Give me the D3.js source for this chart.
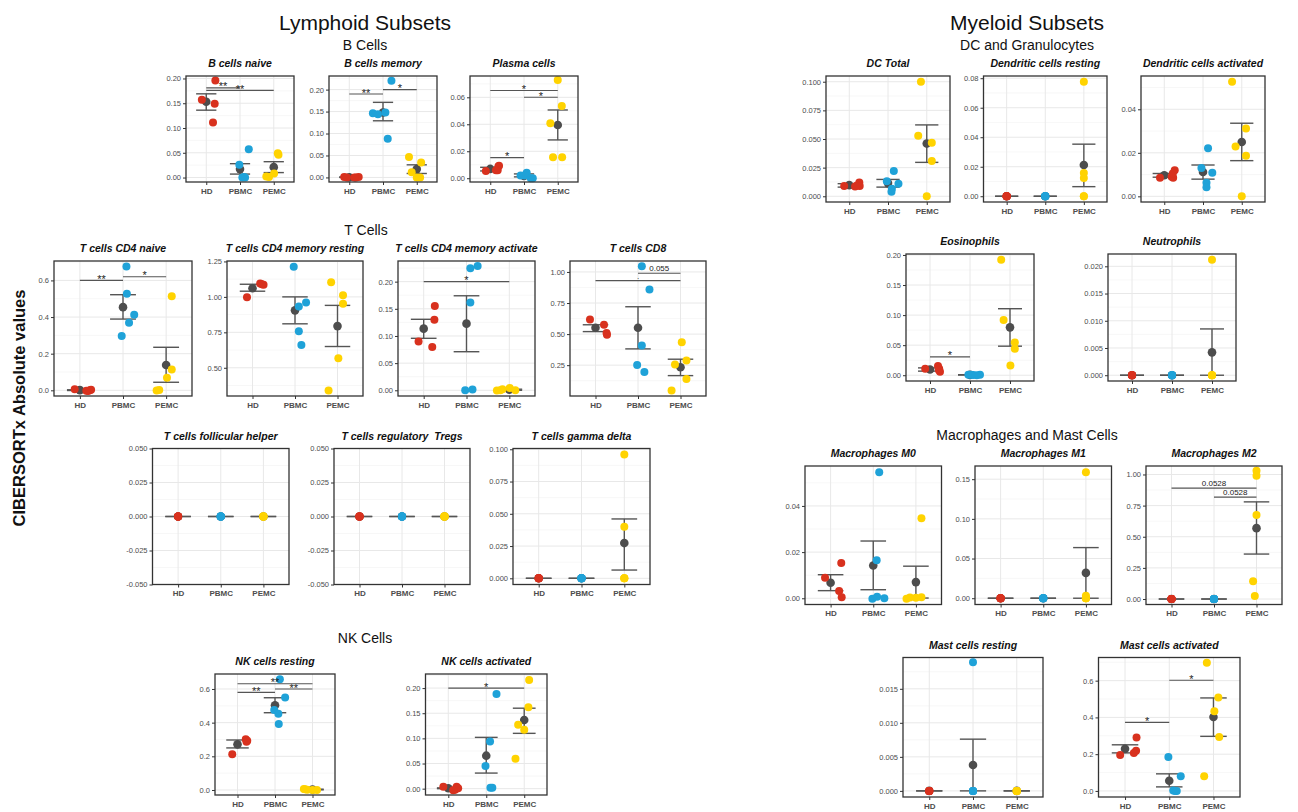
<!DOCTYPE html>
<html>
<head>
<meta charset="utf-8">
<script src="https://cdn.jsdelivr.net/npm/d3@7"></script>
<style>
  body { margin: 0; background: #fff; }
  svg { display: block; }
  .ptitle { white-space: pre; }
</style>
</head>
<body>
<svg id="chart" width="1298" height="812"></svg>
<script>
// ---------- shared categories ----------
const groups = ["HD", "PBMC", "PEMC"];
const groupColors = ["#D8311E", "#1FA2D8", "#FFD300"];
const zeros5 = [0, 0, 0, 0, 0];
const flat5 = [0, 0, 0, 0, 0];

// ---------- B cells ----------
const bNaiveValues = [[0.196, 0.157, 0.149, 0.111], [0.057, 0.026, 0.001, 0.0, 0.0], [0.049, 0.046, 0.008, 0.002, 0.001]];
const bNaiveJitter = [[0.27, -0.13, 0.25, 0.2], [0.26, -0.02, 0.12, 0.07, 0.15], [0.12, 0.14, 0.01, -0.22, -0.14]];
const bNaiveMean = [0.153, 0.017, 0.021];
const bNaiveLow = [0.136, 0.007, 0.010];
const bNaiveHigh = [0.169, 0.028, 0.032];
const bNaiveSig = [["HD", "PBMC", 0.181, "**"], ["HD", "PEMC", 0.176, "**"]];

const bMemValues = [[0.001, 0.0, 0.001, 0.0, 0.0], [0.22, 0.146, 0.144, 0.148, 0.088], [0.0467, 0.034, 0.012, 0.0, 0.0]];
const bMemJitter = [[-0.15, 0.2, 0.28, 0.15, -0.07], [0.25, -0.3, -0.15, 0.07, 0.14], [-0.23, 0.13, -0.15, 0.0, 0.1]];
const bMemMean = [0.0005, 0.148, 0.019];
const bMemLow = [0.0, 0.129, 0.009];
const bMemHigh = [0.001, 0.171, 0.0287];
const bMemSig = [["HD", "PBMC", 0.19, "**"], ["PBMC", "PEMC", 0.20, "*"]];

const plasmaValues = [[0.0054, 0.0087, 0.0059, 0.0093, 0.006], [0.0041, 0.002, 0.0, 0.0, 0.002], [0.0728, 0.0536, 0.0407, 0.0156, 0.0156]];
const plasmaJitter = [[-0.13, 0.24, 0.22, 0.26, 0.17], [0.08, 0.02, 0.2, 0.26, -0.1], [0.0, 0.12, -0.22, -0.14, 0.13]];
const plasmaMean = [0.0069, 0.0017, 0.0395];
const plasmaLow = [0.0054, 0.001, 0.0284];
const plasmaHigh = [0.0081, 0.0032, 0.0506];
const plasmaSig = [["HD", "PEMC", 0.065, "*"], ["PBMC", "PEMC", 0.060, "*"], ["HD", "PBMC", 0.0153, "*"]];

// ---------- T cells ----------
const cd4NaiveValues = [[0.006, -0.004, 0.0, 0.003, -0.002], [0.676, 0.527, 0.413, 0.369, 0.296], [0.514, 0.113, 0.069, -0.001, 0.002]];
const cd4NaiveJitter = [[-0.12, 0.19, 0.23, 0.26, 0.15], [0.08, 0.09, 0.26, 0.14, -0.03], [0.13, 0.13, 0.02, -0.22, -0.16]];
const cd4NaiveMean = [0.001, 0.454, 0.138];
const cd4NaiveLow = [-0.001, 0.389, 0.044];
const cd4NaiveHigh = [0.003, 0.522, 0.235];
const cd4NaiveSig = [["HD", "PBMC", 0.60, "**"], ["PBMC", "PEMC", 0.62, "*"]];

const cd4RestValues = [[0.998, 1.094, 1.085, 1.089], [1.212, 0.961, 0.933, 0.757, 0.661], [1.103, 1.012, 0.951, 0.568, 0.339]];
const cd4RestJitter = [[-0.13, 0.18, 0.26, 0.22], [-0.03, 0.26, 0.09, 0.09, 0.15], [-0.15, 0.13, 0.13, 0.02, -0.21]];
const cd4RestMean = [1.061, 0.905, 0.794];
const cd4RestLow = [1.04, 0.81, 0.65];
const cd4RestHigh = [1.089, 1.0, 0.94];
const cd4RestSig = [];

const cd4ActValues = [[0.155, 0.130, 0.0896, 0.0798], [0.2245, 0.2288, 0.1614, 0.0, 0.0013], [0.0, 0.002, 0.004, 0.0, -0.0005]];
const cd4ActJitter = [[0.26, 0.25, -0.12, 0.2], [0.09, 0.26, 0.09, -0.03, 0.14], [-0.21, -0.16, 0.01, 0.14, -0.29]];
const cd4ActMean = [0.1135, 0.1227, 0.001];
const cd4ActLow = [0.0957, 0.071, 0.0];
const cd4ActHigh = [0.1307, 0.174, 0.002];
const cd4ActSig = [["HD", "PEMC", 0.20, "*"]];

const cd8Values = [[0.617, 0.575, 0.508, 0.495], [1.045, 0.859, 0.408, 0.252, 0.196], [0.434, 0.287, 0.255, 0.138, 0.047]];
const cd8Jitter = [[-0.13, 0.2, 0.26, 0.27], [0.09, 0.27, 0.09, -0.02, 0.15], [0.03, 0.14, -0.13, 0.14, -0.21]];
const cd8Mean = [0.551, 0.551, 0.233];
const cd8Low = [0.52, 0.381, 0.166];
const cd8High = [0.575, 0.72, 0.298];
const cd8Sig = [["PBMC", "PEMC", 0.99, "0.055"], ["HD", "PEMC", 0.93, "."]];

const tfhValues = [zeros5, zeros5, zeros5];
const tfhMean = [0, 0, 0];
const tregValues = [zeros5, zeros5, zeros5];
const tregMean = [0, 0, 0];

const gdValues = [zeros5, zeros5, [0.096, 0.040, 0.0, 0.0, 0.0]];
const gdMean = [0, 0, 0.0273];
const gdLow = [0, 0, 0.0064];
const gdHigh = [0, 0, 0.046];

// ---------- NK cells ----------
const nkRestValues = [[0.212, 0.301, 0.292, 0.287], [0.658, 0.549, 0.475, 0.453, 0.392], [0.005, 0.002, 0.0, 0.0, 0.006]];
const nkRestJitter = [[-0.14, 0.22, 0.26, 0.24], [0.13, 0.27, -0.02, 0.09, 0.1], [-0.2, -0.14, 0.0, 0.12, -0.23]];
const nkRestMean = [0.271, 0.503, 0.003];
const nkRestLow = [0.25, 0.459, 0.001];
const nkRestHigh = [0.297, 0.548, 0.005];
const nkRestSig = [["HD", "PBMC", 0.58, "**"], ["PBMC", "PEMC", 0.60, "**"], ["HD", "PEMC", 0.631, "**"]];

const nkActValues = [[0.004, 0.004, -0.002, 0.001, -0.003], [0.188, 0.094, 0.045, 0.002, 0.002], [0.216, 0.162, 0.127, 0.117, 0.0596]];
const nkActJitter = [[-0.13, 0.22, 0.18, 0.26, 0.13], [0.27, 0.1, -0.02, 0.11, 0.16], [0.13, 0.11, -0.16, 0.0, -0.23]];
const nkActMean = [0.0008, 0.0656, 0.1365];
const nkActLow = [0.0, 0.031, 0.110];
const nkActHigh = [0.0016, 0.102, 0.160];
const nkActSig = [["HD", "PEMC", 0.20, "*"]];

// ---------- DC and granulocytes ----------
const dcTotValues = [[0.0089, 0.012, 0.0095, 0.009, 0.0085], [0.0221, 0.0132, 0.011, 0.0066, 0.004], [0.100, 0.0529, 0.0468, 0.0308, 0.0]];
const dcTotJitter = [[-0.13, 0.26, 0.2, 0.27, 0.15], [0.15, -0.03, 0.27, 0.1, 0.09], [-0.15, -0.22, 0.13, 0.13, 0.0]];
const dcTotMean = [0.0097, 0.0115, 0.046];
const dcTotLow = [0.008, 0.008, 0.0296];
const dcTotHigh = [0.011, 0.0147, 0.0623];

const dcRestValues = [zeros5, zeros5, [0.0776, 0.0157, 0.0123, 0.0, 0.0]];
const dcRestMean = [0, 0, 0.0212];
const dcRestLow = [0, 0, 0.0065];
const dcRestHigh = [0, 0, 0.0353];

const dcActValues = [[0.0085, 0.012, 0.0085, 0.009, 0.0105], [0.0221, 0.013, 0.0108, 0.0062, 0.0042], [0.0527, 0.0312, 0.0229, 0.0186, 0.0]];
const dcActJitter = [[-0.11, 0.27, 0.23, 0.19, 0.22], [0.13, -0.04, 0.24, 0.09, 0.09], [-0.25, 0.11, -0.16, 0.11, 0.0]];
const dcActMean = [0.0097, 0.0112, 0.025];
const dcActLow = [0.0088, 0.0079, 0.0164];
const dcActHigh = [0.0105, 0.0144, 0.0336];

const eosValues = [[0.0106, 0.0155, 0.0106, 0.0056, 0.0085], [0.0008, 0.0005, 0.0008, 0.0, 0.001], [0.192, 0.0917, 0.0544, 0.044, 0.016]];
const eosJitter = [[-0.12, 0.2, 0.23, 0.25, 0.22], [-0.04, 0.08, 0.25, 0.17, 0.02], [-0.22, -0.16, 0.12, 0.12, 0.01]];
const eosMean = [0.0095, 0.0006, 0.0796];
const eosLow = [0.0068, 0.0003, 0.0483];
const eosHigh = [0.0122, 0.0009, 0.1106];
const eosSig = [["HD", "PBMC", 0.0305, "*"]];

const neutValues = [zeros5, zeros5, [0.0212, 0.0, 0.0, 0.0, 0.0]];
const neutMean = [0, 0, 0.0042];
const neutLow = [0, 0, 0.0];
const neutHigh = [0, 0, 0.0085];

// ---------- Macrophages and mast cells ----------
const m0Values = [[0.0089, 0.0153, 0.0031, 0.0004], [0.0546, 0.0165, -0.0002, 0.0007, 0.0], [0.0347, -0.0002, 0.0003, 0.0002, 0.0004]];
const m0Jitter = [[-0.13, 0.25, 0.2, 0.26], [0.14, 0.08, -0.02, 0.09, 0.26], [0.13, -0.22, -0.14, 0.0, 0.13]];
const m0Mean = [0.0067, 0.0142, 0.007];
const m0Low = [0.0033, 0.0037, 0.0001];
const m0High = [0.0102, 0.0248, 0.0139];

const m1Values = [zeros5, zeros5, [0.1587, 0.003, 0.0, 0.0, 0.0]];
const m1Mean = [0, 0, 0.0319];
const m1Low = [0, 0, 0.0];
const m1High = [0, 0, 0.0638];

const m2Values = [zeros5, zeros5, [1.029, 0.989, 0.674, 0.142, 0.024]];
const m2Jitter = [flat5, flat5, [0.0, 0.0, 0.0, -0.08, -0.04]];
const m2Mean = [0, 0, 0.569];
const m2Low = [0, 0, 0.361];
const m2High = [0, 0, 0.78];
const m2Sig = [["HD", "PEMC", 0.89, "0.0528"], ["PBMC", "PEMC", 0.818, "0.0528"]];

const mastRestValues = [zeros5, [0.0189, 0.0, 0.0, 0.0, 0.0], zeros5];
const mastRestMean = [0, 0.0038, 0];
const mastRestLow = [0, 0.0, 0];
const mastRestHigh = [0, 0.0076, 0];

const mastActValues = [[0.195, 0.291, 0.218, 0.207], [0.185, 0.080, 0.003, 0.0, 0.0], [0.698, 0.509, 0.433, 0.293, 0.08]];
const mastActJitter = [[-0.11, 0.26, 0.25, 0.2], [-0.02, 0.26, 0.09, 0.13, 0.17], [-0.15, 0.11, 0.02, 0.13, -0.21]];
const mastActMean = [0.229, 0.0556, 0.402];
const mastActLow = [0.207, 0.022, 0.297];
const mastActHigh = [0.251, 0.093, 0.506];
const mastActSig = [["HD", "PBMC", 0.373, "*"], ["PBMC", "PEMC", 0.602, "*"]];

// ---------- tick sets ----------
const ticks02by05 = [0, 0.05, 0.10, 0.15, 0.20];
const ticksPlasma = [0, 0.02, 0.04, 0.06];
const ticks06by2 = [0, 0.2, 0.4, 0.6];
const ticksCd4Rest = [0.50, 0.75, 1.00, 1.25];
const ticksCd8 = [0.25, 0.50, 0.75, 1.00];
const ticksSym = [-0.05, -0.025, 0, 0.025, 0.05];
const ticks01by025 = [0, 0.025, 0.05, 0.075, 0.1];
const ticks008 = [0, 0.02, 0.04, 0.06, 0.08];
const ticks004 = [0, 0.02, 0.04];
const ticksNeut = [0, 0.005, 0.01, 0.015, 0.02];
const ticksM1 = [0, 0.05, 0.10, 0.15];
const ticksM2 = [0, 0.25, 0.5, 0.75, 1.0];
const ticksMastRest = [0, 0.005, 0.01, 0.015];

// ---------- panel layout ----------
const panels = [
  { title: "B cells naive", values: bNaiveValues, jitter: bNaiveJitter, mean: bNaiveMean, low: bNaiveLow, high: bNaiveHigh, sig: bNaiveSig, domain: [-0.009, 0.205], ticks: ticks02by05, dec: 2, box: [186, 294, 76, 182] },
  { title: "B cells memory", values: bMemValues, jitter: bMemJitter, mean: bMemMean, low: bMemLow, high: bMemHigh, sig: bMemSig, domain: [-0.0104, 0.231], ticks: ticks02by05, dec: 2, box: [329, 437, 76, 182] },
  { title: "Plasma cells", values: plasmaValues, jitter: plasmaJitter, mean: plasmaMean, low: plasmaLow, high: plasmaHigh, sig: plasmaSig, domain: [-0.0028, 0.0758], ticks: ticksPlasma, dec: 2, box: [470, 578, 76, 182] },

  { title: "T cells CD4 naive", values: cd4NaiveValues, jitter: cd4NaiveJitter, mean: cd4NaiveMean, low: cd4NaiveLow, high: cd4NaiveHigh, sig: cd4NaiveSig, domain: [-0.031, 0.706], ticks: ticks06by2, dec: 1, box: [54, 192, 261, 396] },
  { title: "T cells CD4 memory resting", values: cd4RestValues, jitter: cd4RestJitter, mean: cd4RestMean, low: cd4RestLow, high: cd4RestHigh, sig: cd4RestSig, domain: [0.301, 1.253], ticks: ticksCd4Rest, dec: 2, box: [227, 363, 261, 396] },
  { title: "T cells CD4 memory activate", values: cd4ActValues, jitter: cd4ActJitter, mean: cd4ActMean, low: cd4ActLow, high: cd4ActHigh, sig: cd4ActSig, domain: [-0.0105, 0.238], ticks: ticks02by05, dec: 2, box: [398, 535, 261, 396] },
  { title: "T cells CD8", values: cd8Values, jitter: cd8Jitter, mean: cd8Mean, low: cd8Low, high: cd8High, sig: cd8Sig, domain: [0.002, 1.088], ticks: ticksCd8, dec: 2, box: [570, 706, 261, 396] },

  { title: "T cells follicular helper", values: tfhValues, mean: tfhMean, low: tfhMean, high: tfhMean, sig: [], domain: [-0.05, 0.05], ticks: ticksSym, dec: 3, box: [152.5, 289, 448.5, 584.5] },
  { title: "T cells regulatory  Tregs", values: tregValues, mean: tregMean, low: tregMean, high: tregMean, sig: [], domain: [-0.05, 0.05], ticks: ticksSym, dec: 3, box: [334, 470, 448.5, 584.5] },
  { title: "T cells gamma delta", values: gdValues, mean: gdMean, low: gdLow, high: gdHigh, sig: [], domain: [-0.0048, 0.1006], ticks: ticks01by025, dec: 3, box: [513, 650, 448.5, 584.5] },

  { title: "NK cells resting", values: nkRestValues, jitter: nkRestJitter, mean: nkRestMean, low: nkRestLow, high: nkRestHigh, sig: nkRestSig, domain: [-0.0297, 0.689], ticks: ticks06by2, dec: 1, box: [215, 335, 674, 795] },
  { title: "NK cells activated", values: nkActValues, jitter: nkActJitter, mean: nkActMean, low: nkActLow, high: nkActHigh, sig: nkActSig, domain: [-0.0126, 0.228], ticks: ticks02by05, dec: 2, box: [425.5, 547, 674, 795] },

  { title: "DC Total", values: dcTotValues, jitter: dcTotJitter, mean: dcTotMean, low: dcTotLow, high: dcTotHigh, sig: [], domain: [-0.005, 0.105], ticks: ticks01by025, dec: 3, box: [826, 950, 76, 202] },
  { title: "Dendritic cells resting", values: dcRestValues, mean: dcRestMean, low: dcRestLow, high: dcRestHigh, sig: [], domain: [-0.0039, 0.0815], ticks: ticks008, dec: 2, box: [983.5, 1107, 76, 202] },
  { title: "Dendritic cells activated", values: dcActValues, jitter: dcActJitter, mean: dcActMean, low: dcActLow, high: dcActHigh, sig: [], domain: [-0.0026, 0.0553], ticks: ticks004, dec: 2, box: [1141, 1265, 76, 202] },
  { title: "Eosinophils", values: eosValues, jitter: eosJitter, mean: eosMean, low: eosLow, high: eosHigh, sig: eosSig, domain: [-0.0096, 0.2016], ticks: ticks02by05, dec: 2, box: [906, 1034, 254, 381] },
  { title: "Neutrophils", values: neutValues, mean: neutMean, low: neutLow, high: neutHigh, sig: [], domain: [-0.00106, 0.02226], ticks: ticksNeut, dec: 3, box: [1108, 1236, 254, 381] },

  { title: "Macrophages M0", values: m0Values, jitter: m0Jitter, mean: m0Mean, low: m0Low, high: m0High, sig: [], domain: [-0.0027, 0.0573], ticks: ticks004, dec: 2, box: [805, 941.5, 466, 604.5] },
  { title: "Macrophages M1", values: m1Values, mean: m1Mean, low: m1Low, high: m1High, sig: [], domain: [-0.0079, 0.1666], ticks: ticksM1, dec: 2, box: [975, 1111.5, 466, 604.5] },
  { title: "Macrophages M2", values: m2Values, jitter: m2Jitter, mean: m2Mean, low: m2Low, high: m2High, sig: m2Sig, domain: [-0.044, 1.068], ticks: ticksM2, dec: 2, box: [1146, 1282, 466, 604.5] },
  { title: "Mast cells resting", values: mastRestValues, mean: mastRestMean, low: mastRestLow, high: mastRestHigh, sig: [], domain: [-0.0009, 0.0196], ticks: ticksMastRest, dec: 3, box: [903, 1043, 657.5, 797] },
  { title: "Mast cells activated", values: mastActValues, jitter: mastActJitter, mean: mastActMean, low: mastActLow, high: mastActHigh, sig: mastActSig, domain: [-0.033, 0.726], ticks: ticks06by2, dec: 1, box: [1098.5, 1240, 657.5, 797] }
];

// ---------- section headings ----------
const headings = [
  { text: "Lymphoid Subsets", x: 365, y: 29.5, size: 21 },
  { text: "B Cells", x: 365, y: 50, size: 14 },
  { text: "T Cells", x: 366, y: 235, size: 14 },
  { text: "NK Cells", x: 365, y: 643, size: 14 },
  { text: "Myeloid Subsets", x: 1027, y: 29.5, size: 21 },
  { text: "DC and Granulocytes", x: 1027, y: 50, size: 14 },
  { text: "Macrophages and Mast Cells", x: 1027, y: 440, size: 14 }
];

// ---------- drawing ----------
const FONT = "'Liberation Sans', Arial, Helvetica, sans-serif";
const svg = d3.select("#chart");
svg.append("rect").attr("width", 1298).attr("height", 812).attr("fill", "#fff");

function fmt(dec) {
  return v => (v < -1e-12 ? "-" : "") + Math.abs(v).toFixed(dec);
}

function drawPanel(p) {
  const [x0, x1, y0, y1] = p.box;
  const x = d3.scalePoint().domain(groups).range([x0, x1]).padding(0.6);
  const y = d3.scaleLinear().domain(p.domain).range([y1, y0]);
  const step = x.step();
  const g = svg.append("g");

  // minor grid lines halfway between the major breaks
  const t = p.ticks;
  const half = (t[1] - t[0]) / 2;
  const minor = [];
  for (let v = t[0] - half; v <= p.domain[1] + 1e-12; v += 2 * half) {
    if (v >= p.domain[0]) minor.push(v);
  }
  g.selectAll("line.minor").data(minor).join("line").attr("class", "minor")
    .attr("x1", x0).attr("x2", x1).attr("y1", d => y(d)).attr("y2", d => y(d))
    .attr("stroke", "#f1f1f1").attr("stroke-width", 0.6);
  g.selectAll("line.major").data(t).join("line").attr("class", "major")
    .attr("x1", x0).attr("x2", x1).attr("y1", d => y(d)).attr("y2", d => y(d))
    .attr("stroke", "#e8e8e8").attr("stroke-width", 1);
  g.selectAll("line.vgrid").data(groups).join("line").attr("class", "vgrid")
    .attr("x1", d => x(d)).attr("x2", d => x(d)).attr("y1", y0).attr("y2", y1)
    .attr("stroke", "#e8e8e8").attr("stroke-width", 1);

  // y axis
  const ya = g.append("g").attr("transform", `translate(${x0},0)`)
    .call(d3.axisLeft(y).tickValues(t).tickFormat(fmt(p.dec)).tickSize(3).tickPadding(2));
  ya.select(".domain").remove();
  ya.selectAll("line").attr("stroke", "#333");
  ya.selectAll("text").attr("font-family", FONT).attr("font-size", 7.5).attr("fill", "#4d4d4d");

  // x axis
  const xa = g.append("g").attr("transform", `translate(0,${y1})`)
    .call(d3.axisBottom(x).tickSize(3).tickPadding(3));
  xa.select(".domain").remove();
  xa.selectAll("line").attr("stroke", "#333");
  xa.selectAll("text").attr("font-family", FONT).attr("font-size", 8)
    .attr("font-weight", "bold").attr("fill", "#4d4d4d");

  // mean +/- SE error bars and mean markers
  groups.forEach((name, i) => {
    const cx = x(name);
    const lo = y(p.low[i]), hi = y(p.high[i]);
    const eb = g.append("g").attr("stroke", "#555").attr("stroke-width", 1.4);
    eb.append("line").attr("x1", cx).attr("x2", cx).attr("y1", lo).attr("y2", hi);
    eb.append("line").attr("x1", cx - 0.3 * step).attr("x2", cx + 0.3 * step).attr("y1", lo).attr("y2", lo);
    eb.append("line").attr("x1", cx - 0.3 * step).attr("x2", cx + 0.3 * step).attr("y1", hi).attr("y2", hi);
    g.append("circle").attr("cx", cx).attr("cy", y(p.mean[i])).attr("r", 4.3).attr("fill", "#4d4d4d");
  });

  // individual samples
  groups.forEach((name, i) => {
    const jit = p.jitter ? p.jitter[i] : p.values[i].map(() => 0);
    const pts = p.values[i].map((v, k) => ({ v, j: jit[k] || 0 }));
    g.selectAll(null).data(pts).join("circle")
      .attr("cx", d => x(name) + d.j * step)
      .attr("cy", d => y(d.v))
      .attr("r", 4)
      .attr("fill", groupColors[i]);
  });

  // significance brackets
  p.sig.forEach(([a, b, v, label]) => {
    const yy = y(v);
    g.append("line").attr("x1", x(a)).attr("x2", x(b)).attr("y1", yy).attr("y2", yy)
      .attr("stroke", "#555").attr("stroke-width", 1.1);
    const stars = /^\*+$/.test(label);
    g.append("text").attr("x", (x(a) + x(b)) / 2)
      .attr("y", stars ? yy + 2.6 : yy - 2)
      .attr("text-anchor", "middle").attr("font-family", FONT)
      .attr("font-size", stars ? 11 : 8).attr("fill", "#222").text(label);
  });

  // panel border
  g.append("rect").attr("x", x0).attr("y", y0).attr("width", x1 - x0).attr("height", y1 - y0)
    .attr("fill", "none").attr("stroke", "#333").attr("stroke-width", 1.3);

  // panel title
  g.append("text").attr("class", "ptitle").attr("x", (x0 + x1) / 2).attr("y", y0 - 9)
    .attr("text-anchor", "middle").attr("font-family", FONT).attr("font-size", 10.5)
    .attr("font-weight", "bold").attr("font-style", "italic").attr("fill", "#111")
    .text(p.title);
}

panels.forEach(drawPanel);

headings.forEach(h => {
  svg.append("text").attr("x", h.x).attr("y", h.y).attr("text-anchor", "middle")
    .attr("font-family", FONT).attr("font-size", h.size).attr("fill", "#111").text(h.text);
});

// shared y axis label
svg.append("text")
  .attr("transform", "translate(19,408) rotate(-90)")
  .attr("text-anchor", "middle").attr("dominant-baseline", "central")
  .attr("font-family", FONT).attr("font-size", 16.5).attr("font-weight", "bold").attr("fill", "#111")
  .text("CIBERSORTx Absolute values");
</script>
</body>
</html>
